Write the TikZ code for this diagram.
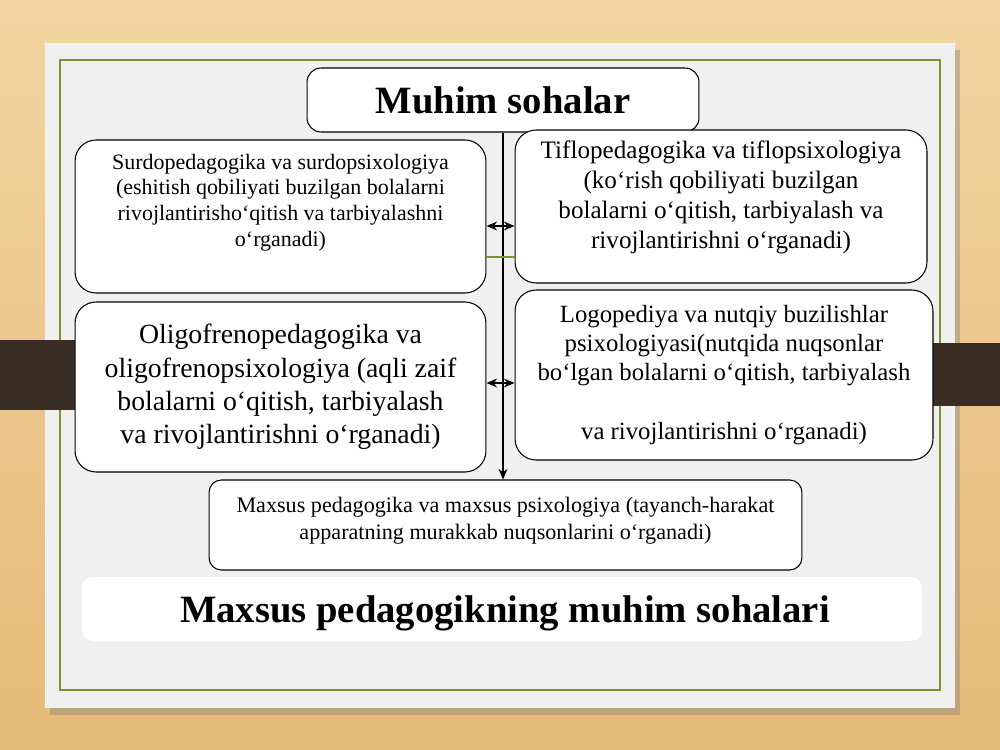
\documentclass[tikz,border=0pt]{standalone}
\usepackage{fontspec}
\setmainfont{Liberation Serif}
\usepackage{xcolor}
\usetikzlibrary{arrows.meta,shadows}

\definecolor{woodlight}{RGB}{242,212,162}
\definecolor{wooddark}{RGB}{230,186,120}
\definecolor{slidegray}{RGB}{240,240,240}
\definecolor{olivegreen}{RGB}{122,150,52}
\definecolor{barbrown}{RGB}{58,45,36}

\begin{document}
\begin{tikzpicture}[x=0.02cm, y=-0.02cm, box/.style={draw=black, line width=0.6pt, fill=white, rounded corners=12pt, inner sep=0pt}, txt/.style={align=center, inner sep=0pt}, link/.style={line width=0.9pt, -{Stealth[length=6pt,width=5pt]}}, twoway/.style={line width=0.9pt, {Stealth[length=6pt,width=5pt]}-{Stealth[length=6pt,width=5pt]}}]
  \useasboundingbox (0,0) rectangle (1000,750);
  % background and slide
  \shade[top color=woodlight, bottom color=wooddark] (0,0) rectangle (1000,750);
  \path[fill=slidegray, drop shadow={shadow xshift=3pt, shadow yshift=-4pt, opacity=0.4}] (45,43) rectangle (955,708);
  \draw[olivegreen, line width=0.9pt] (60,60) rectangle (940,690);
  \fill[barbrown] (0,340) rectangle (75,410);
  \fill[barbrown] (933,343) rectangle (1000,406);

  % boxes
  \node[box, rounded corners=8pt, minimum width=7.84cm, minimum height=1.28cm, font=\fontsize{22}{26}\selectfont\bfseries] (title) at (503,100) {Muhim sohalar};
  \node[box, minimum width=8.22cm, minimum height=3.06cm] (surdo) at (280.5,216.5) {};
  \node[box, minimum width=8.24cm, minimum height=3.06cm] (tiflo) at (721,206.5) {};
  \node[box, minimum width=8.22cm, minimum height=3.4cm, txt, font=\fontsize{15.8}{19}\selectfont] (oligo) at (280.5,387) {Oligofrenopedagogika va\\ oligofrenopsixologiya (aqli zaif\\ bolalarni o‘qitish, tarbiyalash\\ va rivojlantirishni o‘rganadi)};
  \node[box, minimum width=8.36cm, minimum height=3.4cm, txt, font=\fontsize{14.1}{16.6}\selectfont] (logo) at (724,375) {Logopediya va nutqiy buzilishlar\\ psixologiyasi(nutqida nuqsonlar\\ bo‘lgan bolalarni o‘qitish, tarbiyalash\\[16.6pt] va rivojlantirishni o‘rganadi)};
  \node[box, rounded corners=7pt, minimum width=11.86cm, minimum height=1.8cm] (maxsus) at (505.5,525) {};
  \node[fill=white, rounded corners=6pt, minimum width=16.8cm, minimum height=1.28cm] (footbox) at (502,609) {};

  % texts
  \node[txt, anchor=north, font=\fontsize{12.5}{14.6}\selectfont] (surdot) at ([yshift=-0.28cm]surdo.north) {Surdopedagogika va surdopsixologiya\\ (eshitish qobiliyati buzilgan bolalarni\\ rivojlantirisho‘qitish va tarbiyalashni\\ o‘rganadi)};
  \node[txt, anchor=north, font=\fontsize{14.3}{17}\selectfont] (tiflot) at ([yshift=-0.22cm]tiflo.north) {Tiflopedagogika va tiflopsixologiya\\ (ko‘rish qobiliyati buzilgan\\ bolalarni o‘qitish, tarbiyalash va\\ rivojlantirishni o‘rganadi)};
  \node[txt, anchor=north, font=\fontsize{12.6}{15.3}\selectfont] (maxsust) at ([yshift=-0.34cm]maxsus.north) {Maxsus pedagogika va maxsus psixologiya (tayanch-harakat\\ apparatning murakkab nuqsonlarini o‘rganadi)};
  \node[inner sep=0pt, anchor=base, font=\fontsize{22}{26}\selectfont\bfseries] (foot) at (505,622) {Maxsus pedagogikning muhim sohalari};

  % connectors
  \coordinate (row1) at (0,226);
  \coordinate (row2) at (0,383);
  \coordinate (seam) at (0,257);
  \draw[link] (title.south) -- (title.south |- maxsus.north);
  \draw[twoway] (surdo.east |- row1) -- (tiflo.west |- row1);
  \draw[twoway] (oligo.east |- row2) -- (logo.west |- row2);
  \draw[olivegreen, line width=0.6pt] (surdo.east |- seam) -- (tiflo.west |- seam);
\end{tikzpicture}
\end{document}
